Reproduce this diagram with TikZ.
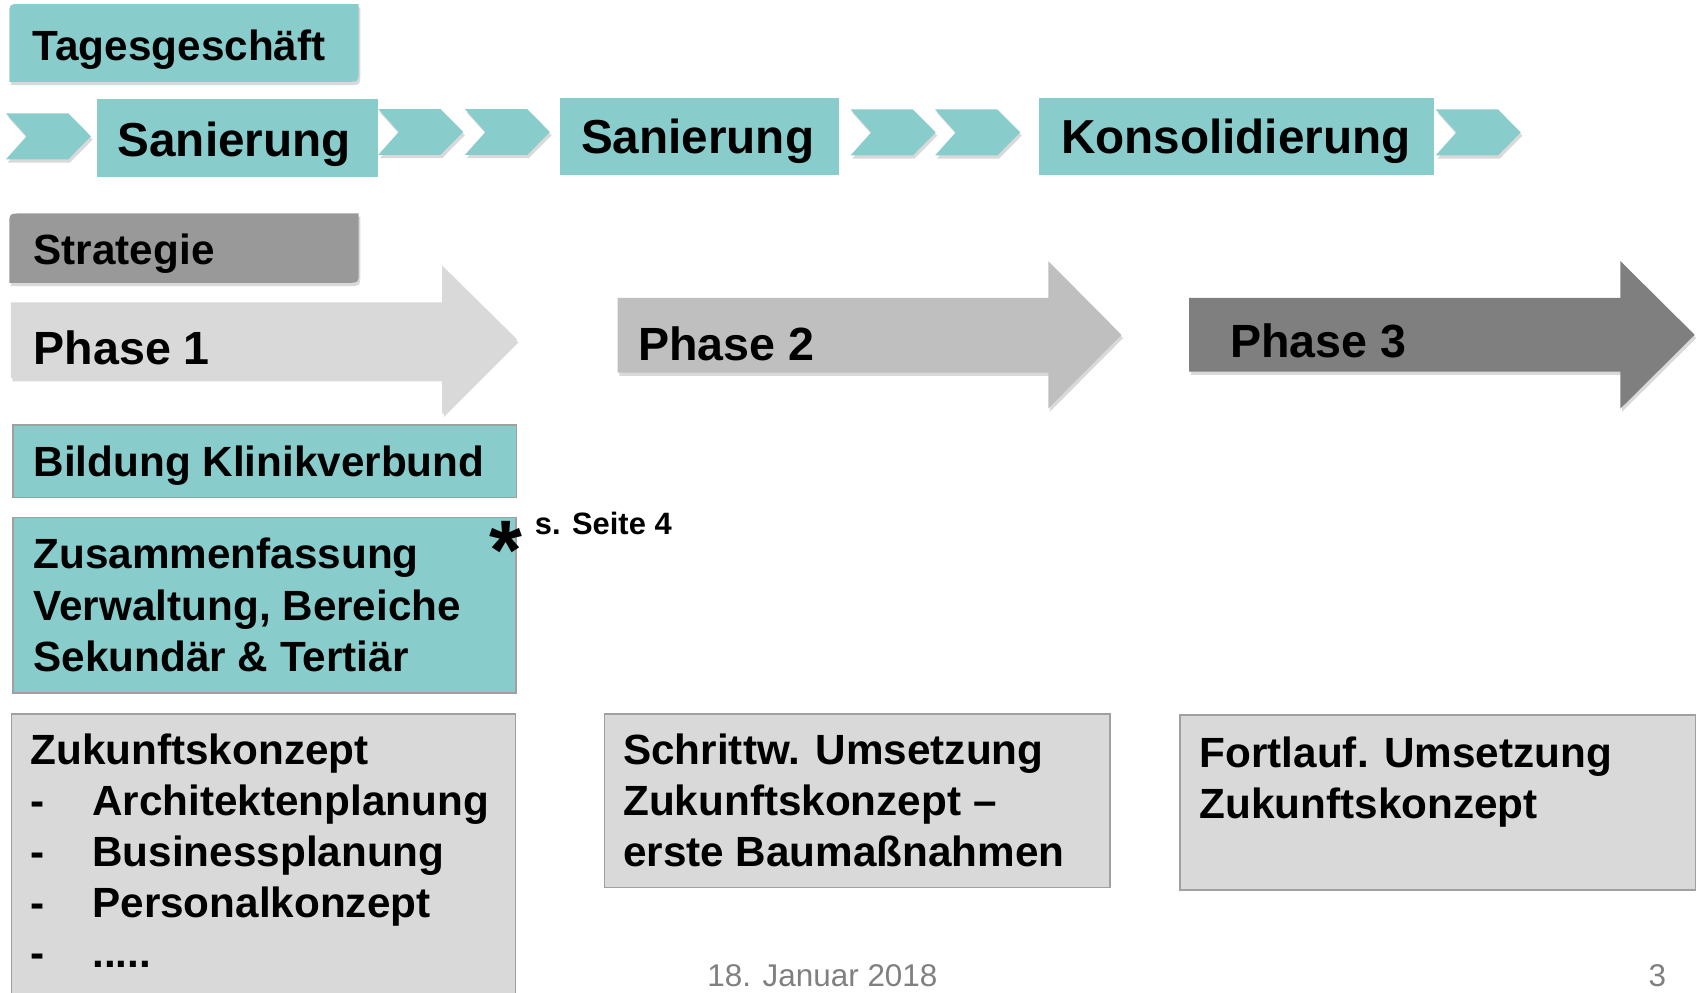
\documentclass[tikz,border=0pt]{standalone}
\usepackage{fontspec}
\setmainfont{Liberation Sans}
\usepackage{tikz}
\usetikzlibrary{shadows}
\definecolor{tealbox}{RGB}{137,204,204}
\definecolor{phaseone}{RGB}{217,217,217}
\definecolor{phasetwo}{RGB}{191,191,191}
\definecolor{phasethree}{RGB}{127,127,127}
\definecolor{stratgray}{RGB}{153,153,153}
\definecolor{edgegray}{RGB}{160,160,160}
\definecolor{footgray}{RGB}{128,128,128}

\begin{document}
\begin{tikzpicture}[x=1pt, y=-1pt,
    shadowed/.style={drop shadow={opacity=0.3, shadow xshift=1.5pt, shadow yshift=-3pt}},
    chev/.style={fill=tealbox, shadowed},
    tealrect/.style={draw=edgegray, line width=1.5pt, fill=tealbox, inner sep=0pt, anchor=north west},
    grayrect/.style={draw=edgegray, line width=1.5pt, fill=phaseone, inner sep=0pt, anchor=north west},
    lbl/.style={anchor=base west, inner sep=0pt, font=\bfseries\fontsize{39}{47}\selectfont},
    biglbl/.style={anchor=base west, inner sep=0pt, font=\bfseries\fontsize{44}{52}\selectfont},
    phaselbl/.style={anchor=base west, inner sep=0pt, font=\bfseries\fontsize{43}{52}\selectfont},
    footlbl/.style={anchor=base, inner sep=0pt, text=footgray, font=\fontsize{29}{34}\selectfont}]
    	\useasboundingbox (0,0) rectangle (1568,916);
    	\clip (0,0) rectangle (1568,916);
    	% Top row:
    	\fill[tealbox, shadowed] (8.6,75.5) -- (8.6,14) .. controls (8.6,3.7) .. (19,3.7) -- (331,3.7) -- (331,65) .. controls (331,75.5) .. (320,75.5) -- cycle;
    	\node[lbl] (tages) at (30,55.4) {Tagesgeschäft};
    	\foreach \cx/\cy in {5.5/104.6, 349/100.6, 429/100.6, 785/101, 863/101, 1325/101}
    		\fill[chev] (\cx,\cy) -- ++(57.5,0) -- ++(21,21.2) -- ++(-21,21.2) -- ++(-57.5,0) -- ++(19,-21.2) -- cycle;
    	\node[fill=tealbox, inner sep=0pt, anchor=north west, minimum width=259.6pt, minimum height=71.6pt] (san1) at (89,91.4) {};
    	\node[biglbl] at (108.3,144.6) {Sanierung};
    	\node[fill=tealbox, inner sep=0pt, anchor=north west, minimum width=257pt, minimum height=71.7pt] (san2) at (517,89.8) {};
    	\node[biglbl] at (536,142) {Sanierung};
    	\node[fill=tealbox, inner sep=0pt, anchor=north west, minimum width=364pt, minimum height=71.7pt] (kons) at (959,89.8) {};
    	\node[biglbl] at (979,142) {Konsolidierung};
    	% Strategy and phases:
    	\fill[stratgray, shadowed] (8.6,261) -- (8.6,207) .. controls (8.6,197) .. (19,197) -- (331,197) -- (331,251) .. controls (331,261) .. (321,261) -- cycle;
    	\node[lbl] (strat) at (30.9,244) {Strategie};
    	\fill[phaseone, shadowed] (10,279) -- (408,279) -- (408,245) -- (477,313) -- (408,382) -- (408,349) -- (10,349) -- cycle;
    	\node[phaselbl] (ph1) at (31,336) {Phase 1};
    	\fill[phasetwo, shadowed] (570,275) -- (967.5,275) -- (967.5,241) -- (1035,309) -- (967.5,377) -- (967.5,344) -- (570,344) -- cycle;
    	\node[phaselbl] (ph2) at (589,332.3) {Phase 2};
    	\fill[phasethree, shadowed] (1097.5,275) -- (1495.5,275) -- (1495.5,241) -- (1564,309) -- (1495.5,377) -- (1495.5,343) -- (1097.5,343) -- cycle;
    	\node[phaselbl] (ph3) at (1135,330) {Phase 3};
    	% Phase 1 boxes:
    	\node[tealrect, minimum width=464.6pt, minimum height=66.8pt] (bild) at (11.4,391.6) {};
    	\node[lbl] (bildtxt) at (30.8,439.3) {Bildung Klinikverbund};
    	\node[tealrect, minimum width=464.3pt, minimum height=162.2pt] (zus) at (11.4,476.8) {};
    	\node[lbl] (zus1) at (30.8,525) {Zusammenfassung};
    	\node[lbl] (zus2) at (30.8,572.5) {Verwaltung, Bereiche};
    	\node[lbl] (zus3) at (30.8,620) {Sekundär \& Tertiär};
    	\node[anchor=base west, inner sep=0pt, font=\bfseries\fontsize{78}{80}\selectfont] (stern) at (452,535) {*};
    	\node[anchor=base west, inner sep=0pt, font=\bfseries\fontsize{28.5}{32}\selectfont] (seite) at (493.5,493) {s. Seite 4};
    	\node[grayrect, minimum width=465pt, minimum height=272pt] (zuk) at (10,658) {};
    	\node[lbl] (zuk0) at (28,706) {Zukunftskonzept};
    	\foreach \entry/\yy [count=\i] in {Architektenplanung/753, Businessplanung/800, Personalkonzept/847, {.....}/893}{
    		\node[lbl] (zukdash\i) at (28,\yy) {-};
    		\node[lbl] (zuk\i) at (85,\yy) {\entry};
    	}
    	% Phase 2 and 3 boxes:
    	\node[grayrect, minimum width=466.5pt, minimum height=160.3pt] (schritt) at (557,658) {};
    	\node[lbl] (schritt1) at (575,706) {Schrittw. Umsetzung};
    	\node[lbl] (schritt2) at (575,753) {Zukunftskonzept –};
    	\node[lbl] (schritt3) at (575,800) {erste Baumaßnahmen};
    	\node[grayrect, minimum width=476pt, minimum height=161.2pt] (fort) at (1088,659.3) {};
    	\node[lbl] (fort1) at (1107,708) {Fortlauf. Umsetzung};
    	\node[lbl] (fort2) at (1107,755) {Zukunftskonzept};
    	% Footer:
    	\node[footlbl] (datum) at (759,910) {18. Januar 2018};
    	\node[footlbl] (nr) at (1529.5,910) {3};
\end{tikzpicture}
\end{document}
